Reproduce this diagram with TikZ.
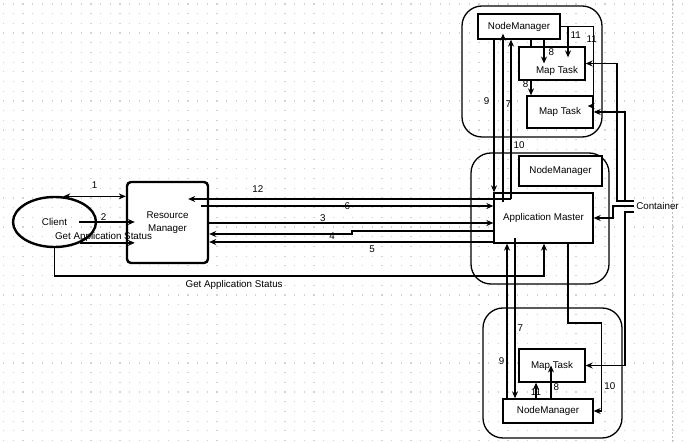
\documentclass[tikz,border=0pt]{standalone}
\usepackage{fontspec}
\setmainfont{Liberation Sans}
\usetikzlibrary{arrows.meta,shapes.geometric}
\begin{document}
\begin{tikzpicture}[x=1pt,y=-1pt,inner sep=1pt,
  font=\fontsize{9.8}{13}\selectfont,
  >={Stealth[length=7pt,width=6pt]},
  grp/.style={draw,line width=1.3pt,rounded corners=20pt},
  blk/.style={draw,fill=white,line width=1.3pt,inner sep=0pt},
  lnk/.style={line width=1.3pt,->}]
\useasboundingbox (0,0) rectangle (690,443);
\fill[white] (0,0) rectangle (690,443);
\foreach \r in {0,...,45}
  \draw[gray!35,line width=1.2pt,dash pattern=on 1.2pt off 8.5pt] (3,4+9.7*\r) -- (690,4+9.7*\r);
\draw[gray!50,dash pattern=on 2pt off 2pt] (672,0) -- (672,443);
\draw[grp] (462,6) rectangle (602,137);
\draw[grp] (471,153) rectangle (609,284);
\draw[grp] (483,308) rectangle (622,438);
\node[ellipse,draw,line width=2.4pt,minimum width=83pt,minimum height=50pt] (client) at (54.5,222) {Client};
\node[blk,line width=2.4pt,rounded corners=4pt,minimum width=81pt,minimum height=81pt,align=center] (rm) at (167.5,222.5) {Resource\\Manager};
\node[blk,minimum width=99pt,minimum height=50pt] (am) at (543.5,218) {Application Master};
\node[blk,minimum width=83pt,minimum height=30pt] (nmMid) at (560.5,171) {NodeManager};
\node[blk,minimum width=82pt,minimum height=25pt] (nmTop) at (519,26.5) {NodeManager};
\node[blk,minimum width=90pt,minimum height=24pt] (nmBot) at (548,411) {NodeManager};
\node[blk,minimum width=66pt,minimum height=32pt] (mtB) at (560,112) {Map Task};
\draw[lnk] (nmTop.south -| 531,0) -- node[left=1pt,pos=0.79]{8} (mtB.north -| 531,0);
\node[blk,minimum width=66pt,minimum height=33pt,label={[xshift=5pt,yshift=-7.5pt]center:Map Task}] (mtA) at (552,63.5) {};
\node[blk,minimum width=66pt,minimum height=33pt] (mtC) at (552,365.5) {Map Task};
\node[inner sep=2pt] (cont) at (657.5,206) {Container};
\coordinate (j12) at (511,199);
\coordinate (cTop) at ([yshift=5pt]cont.west);
\coordinate (cBot) at ([yshift=-6pt]cont.west);

\draw[lnk,<->] (client.71) -- node[above=6pt]{1} (client.71 -| rm.west);
\draw[lnk] ([xshift=24.5pt]client.center) -- node[above=0pt,pos=0.44]{2} ([xshift=9pt]rm.west |- client.center);
\draw[lnk] (client.-39) -- node[above=0pt,xshift=-4pt]{Get Application Status} ([xshift=9pt]rm.west |- client.-39);
\draw[lnk] (client.south) -- (client.south |- 0,276) -- node[below=3pt,pos=0.367]{Get Application Status} (544,276) -- (am.south -| 544,0);

\draw[lnk] (j12) -- node[above=5pt,pos=0.784]{12} ([xshift=-21pt]rm.east |- j12);
\draw[lnk] ([xshift=-8pt]rm.east |- 0,206) -- node[pos=0.5]{6} (am.west |- 0,206);
\draw[lnk] (rm.east |- 0,223) -- node[above=0pt,pos=0.4]{3} (am.west |- 0,223);
\draw[lnk] (am.west |- 0,231) -- (352,231) -- (352,234) -- node[pos=0.14,yshift=-2.5pt]{4} (rm.east |- 0,234);
\draw[lnk] (am.west |- 0,242) -- node[below=2pt,pos=0.427]{5} (rm.east |- 0,242);

\draw[lnk] (nmTop.south -| 494,0) -- node[left=3pt,pos=0.4]{9} (am.north -| 494,0);
\draw[lnk] (am.north -| 503,0) ++(0,10) -- node[right=1pt,pos=0.58]{7} ([yshift=6pt]nmTop.south -| 503,0);
\draw[lnk] (j12) -- node[right=1pt,pos=0.34]{10} (nmTop.south -| 511,0);
\draw[lnk] (nmTop.south -| 544,0) -- node[right=3pt,pos=0.53]{8} (mtA.center -| 544,0);
\draw[lnk] (nmTop.east) -| node[right=1pt,pos=0.71]{11} (mtA.north -| 568,0) -- ++(0,11);
\draw[lnk] (nmTop.east) -| node[pos=0.58,xshift=-2pt]{11} (mtB.east |- 0,106) -- ++(-6,0);

\draw[lnk] (cTop) -- (cTop -| 617,0) |- (mtA.east);
\draw[lnk] (cTop -| 625,0) |- (mtB.east);
\draw[lnk] (cont.west) -- (cont.west -| 613,0) |- (am.east);
\draw[lnk] (cBot) -- (cBot -| 625,0) |- (mtC.east);

\draw[lnk] (nmBot.north -| 507,0) -- node[left=1pt,pos=0.24]{9} (am.south -| 507,0);
\draw[lnk] (am.south -| 515,0) ++(0,-6) -- node[right=1pt,pos=0.56]{7} (nmBot.north -| 515,0);
\draw[lnk] (am.south -| 568,0) -- (568,323) -| node[right=1pt,pos=0.86]{10} ([xshift=8pt]nmBot.east) -- (nmBot.east);
\draw[lnk] (nmBot.north -| 536,0) -- node[pos=0.4]{11} (mtC.south -| 536,0);
\draw[lnk] (nmBot.north -| 551,0) -- node[right=1pt,pos=0.35]{8} (mtC.center -| 551,0);
\end{tikzpicture}
\end{document}
